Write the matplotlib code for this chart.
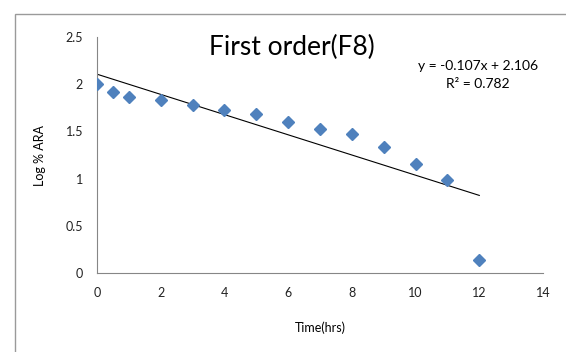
import numpy as np
import matplotlib.pyplot as plt
from matplotlib.patches import Rectangle

# Time (hrs) and log % ARA
time_hrs = [0, 0.5, 1, 2, 3, 4, 5, 6, 7, 8, 9, 10, 11, 12]
log_ara = [2.00, 1.92, 1.86, 1.83, 1.78, 1.73, 1.68, 1.60, 1.53, 1.47, 1.33, 1.15, 0.98, 0.14]

# Linear trendline shown on the chart
slope = -0.107
intercept = 2.106
r_squared = 0.782

x_ticks = [0, 2, 4, 6, 8, 10, 12, 14]
y_ticks = [0, 0.5, 1, 1.5, 2, 2.5]

plt.rcParams['font.family'] = ['Lato', 'DejaVu Sans']

fig = plt.figure(figsize=(5.66, 3.52), dpi=100)
ax = fig.add_axes([0.1714, 0.2244, 0.788, 0.6705])

# outer chart border (cut off at right and bottom)
fig.patches.append(Rectangle((15 / 566, -0.1), 1.2, 1 - 14 / 352 + 0.1,
                             transform=fig.transFigure, fill=False,
                             edgecolor="#9a9a9a", linewidth=1.0))

ax.plot(time_hrs, log_ara, linestyle="none", marker="D", markersize=6.5,
        color="#4F81BD", zorder=3)

trend_x = np.array([time_hrs[0], time_hrs[-1]])
ax.plot(trend_x, slope * trend_x + intercept, color="black", linewidth=0.8)

ax.set_xlim(0, 14)
ax.set_ylim(0, 2.5)
ax.set_xticks(x_ticks)
ax.set_yticks(y_ticks)
ax.set_yticklabels(["0", "0.5", "1", "1.5", "2", "2.5"])
ax.tick_params(axis="both", length=0, labelsize=9, colors="#222222")
ax.tick_params(axis="x", pad=10)
ax.tick_params(axis="y", pad=10)

for side in ["top", "right"]:
    ax.spines[side].set_visible(False)
for side in ["left", "bottom"]:
    ax.spines[side].set_color("#868686")
    ax.spines[side].set_linewidth(0.8)

ax.set_xlabel("Time(hrs)", fontsize=9, labelpad=16)
ax.set_ylabel("Log % ARA", fontsize=9, labelpad=14)

fig.text(292 / 566, 1 - 47 / 352, "First order(F8)", fontsize=19,
         ha="center", va="center")
fig.text(478 / 566, 1 - 66 / 352, "y = %.3fx + %.3f" % (slope, intercept),
         fontsize=10, ha="center", va="center")
fig.text(478 / 566, 1 - 84 / 352, "R\u00b2 = %.3f" % r_squared,
         fontsize=10, ha="center", va="center")

plt.savefig("out.png", dpi=100)
